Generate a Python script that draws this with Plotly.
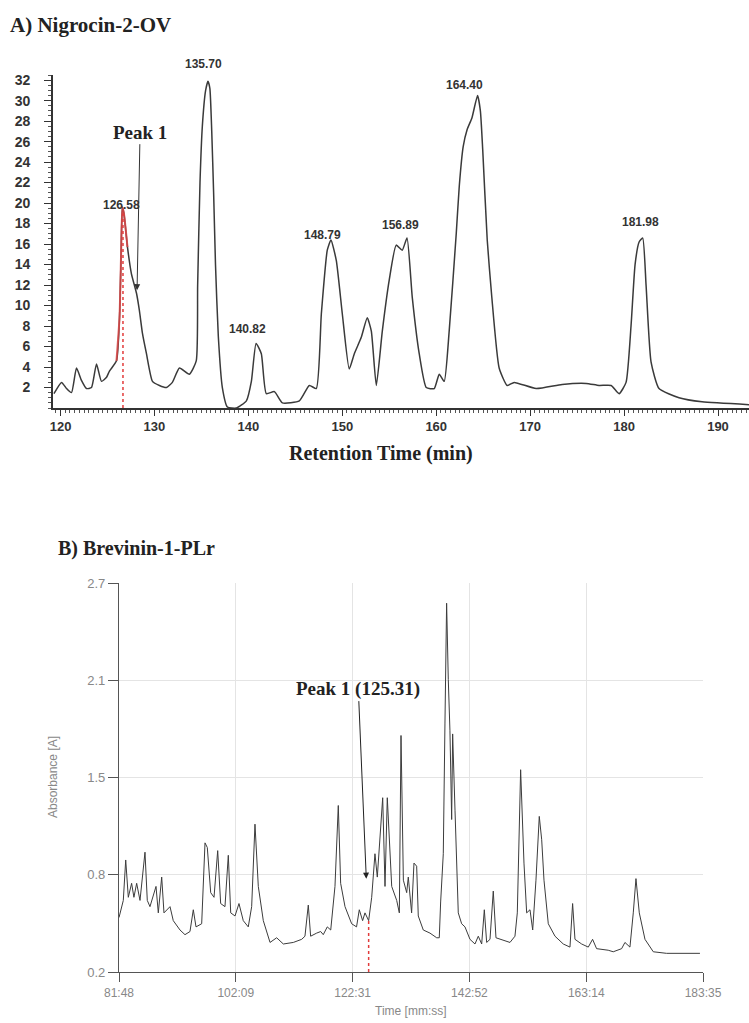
import numpy as np
import plotly.graph_objects as go

# ---------------- Panel A data (Nigrocin-2-OV) ----------------
time_a = [119.3, 120.11, 120.64, 121.17, 121.70, 122.23, 122.77, 123.3, 123.83, 124.36, 124.9,
          125.21, 125.96, 126.28, 126.45, 126.58, 126.75, 127.13, 127.55, 128.09, 128.40, 128.72,
          129.15, 129.79, 130.53, 131.28, 131.91, 132.66, 133.72, 134.45, 134.6, 134.85, 135.1,
          135.45, 135.70, 135.9, 136.1, 136.3, 136.5, 136.8, 137.23, 137.77, 138.72, 139.79,
          140.32, 140.82, 141.38, 141.91, 142.77, 143.62, 145.43, 146.49, 147.23, 147.77, 148.40,
          148.79, 149.36, 150.0, 150.74, 151.28, 152.02, 152.66, 153.09, 153.62, 154.26, 155.0,
          155.74, 156.38, 156.89, 157.45, 158.19, 158.94, 159.79, 160.32, 160.85, 161.38, 162.13,
          162.45, 162.87, 163.30, 163.8, 164.40, 164.7, 164.95, 165.43, 165.9, 166.70, 167.55,
          168.30, 170.64, 173.40, 175.96, 177.34, 178.62, 179.47, 180.21, 180.74, 181.17, 181.6,
          181.98, 182.34, 182.87, 183.72, 185.85, 188.30, 193.9]
signal_a = [1.4, 2.5, 1.9, 1.5, 3.9, 2.7, 1.9, 2.0, 4.3, 2.6, 3.0,
            3.6, 4.6, 8.8, 15.0, 19.6, 19.0, 15.7, 13.1, 11.2, 9.5, 7.3,
            5.3, 2.6, 2.2, 2.0, 2.5, 3.9, 3.3, 4.6, 12.0, 22.0, 27.5,
            31.0, 31.9, 31.2, 27.0, 21.0, 14.0, 7.0, 2.0, 0.1, 0.0, 0.7,
            2.6, 6.3, 5.3, 1.4, 1.6, 0.5, 0.7, 2.2, 1.9, 9.2, 15.4,
            16.4, 14.4, 9.2, 3.8, 5.3, 6.9, 8.8, 7.5, 2.2, 7.5, 12.5,
            15.9, 15.4, 16.6, 10.8, 5.3, 2.0, 1.9, 3.3, 2.6, 7.5, 17.0,
            21.6, 25.5, 27.2, 28.3, 30.5, 29.0, 25.2, 16.4, 11.0, 3.9, 2.2,
            2.5, 1.9, 2.3, 2.4, 2.2, 2.2, 1.4, 2.5, 8.0, 14.0, 16.2,
            16.6, 12.0, 4.5, 1.9, 1.0, 0.6, 0.3]

peak_times_a = [126.58, 135.70, 140.82, 148.79, 156.89, 164.40, 181.98]
peak_heights_a = [19.6, 31.9, 6.3, 16.4, 16.6, 30.5, 16.6]
label_xshift_a = [-1, -4, -9, -8, -7, -13, -2]
label_yshift_a = [-7, 8, 5, -4, 4, 1, 7]

peak1_a_time = 126.65
peak1_a_arrow = (128.15, 11.5)
x_ticks_a = [120, 130, 140, 150, 160, 170, 180, 190]
y_ticks_a = list(range(2, 33, 2))

# ---------------- Panel B data (Brevinin-1-PLr) ----------------
time_b = [81.8, 81.97, 82.55, 82.97, 83.42, 84.0, 84.4, 84.88, 85.46, 86.33, 86.73, 87.2,
          88.25, 88.65, 89.24, 89.64, 90.69, 91.26, 92.43, 93.3, 94.17, 94.75, 95.22, 96.21,
          96.79, 97.19, 97.78, 98.36, 99.0, 99.52, 100.27, 100.85, 101.27, 102.02, 102.71,
          103.46, 104.33, 104.92, 105.5, 106.08, 106.95, 108.12, 109.28, 110.44, 112.18,
          113.64, 114.21, 114.79, 115.2, 116.25, 116.95, 117.4, 118.1, 118.7, 119.44, 120.02,
          120.43, 121.19, 122.35, 123.2, 123.68, 124.26, 124.67, 125.31, 125.84, 126.41,
          126.82, 127.76, 128.16, 128.56, 129.33, 130.2, 130.66, 130.95, 131.36, 131.94,
          132.22, 132.8, 133.21, 133.68, 133.96, 134.83, 136.0, 137.17, 137.62, 137.86,
          138.32, 138.61, 138.9, 139.19, 139.48, 139.78, 139.95, 140.36, 140.93, 141.52,
          142.1, 142.97, 143.84, 144.42, 145.01, 145.47, 145.88, 146.46, 147.03, 147.5,
          148.2, 149.94, 150.81, 151.22, 151.8, 152.38, 152.85, 153.43, 153.9, 154.47,
          155.05, 155.47, 155.87, 156.62, 157.79, 159.23, 160.4, 160.86, 161.27, 162.43,
          163.59, 164.34, 165.04, 167.06, 167.94, 169.4, 169.98, 170.85, 171.43, 171.9,
          172.48, 173.47, 174.92, 177.24, 183.05]
absorb_b = [0.55, 0.58, 0.66, 0.92, 0.68, 0.77, 0.68, 0.77, 0.66, 0.97, 0.66, 0.62,
            0.75, 0.58, 0.81, 0.58, 0.62, 0.53, 0.47, 0.44, 0.46, 0.60, 0.49, 0.51,
            1.03, 1.00, 0.71, 0.68, 0.98, 0.64, 0.62, 0.95, 0.58, 0.56, 0.64,
            0.53, 0.49, 0.62, 1.15, 0.75, 0.53, 0.39, 0.42, 0.38, 0.39,
            0.41, 0.43, 0.63, 0.43, 0.45, 0.46, 0.44, 0.49, 0.47, 0.75, 1.27,
            0.77, 0.62, 0.51, 0.49, 0.60, 0.53, 0.58, 0.53, 0.68, 0.96,
            0.81, 1.32, 0.75, 1.32, 0.75, 0.66, 0.58, 1.72, 0.79, 0.71,
            0.81, 0.58, 0.90, 0.88, 0.56, 0.47, 0.45, 0.42, 0.42, 0.65,
            0.96, 1.80, 2.57, 2.08, 1.75, 1.18, 1.73, 1.24, 0.58, 0.51,
            0.49, 0.41, 0.38, 0.43, 0.38, 0.60, 0.39, 0.41, 0.72, 0.42,
            0.41, 0.39, 0.43, 0.58, 1.50, 0.90, 0.58, 0.60, 0.47, 0.79,
            1.20, 1.05, 0.79, 0.51, 0.43, 0.38, 0.36, 0.64, 0.41, 0.38,
            0.36, 0.41, 0.35, 0.34, 0.33, 0.35, 0.39, 0.36, 0.58, 0.80,
            0.58, 0.41, 0.33, 0.32, 0.32]

peak1_b_time = 125.31
peak1_b_top = 0.53
peak1_b_arrow = (124.9, 0.80)
x_ticklabels_b = ["81:48", "102:09", "122:31", "142:52", "163:14", "183:35"]
y_ticklabels_b = ["0.2", "0.8", "1.5", "2.1", "2.7"]
y_range_b = (0.2, 2.7)

# ---------------- figure ----------------
W, H = 749, 1023
def px(x):
    return x / W
def py(y):
    return 1 - y / H

serif = "Liberation Serif, Times New Roman, serif"
narrow = "Liberation Sans Narrow, Arial Narrow, Liberation Sans, Arial, sans-serif"
sans = "Liberation Sans, Arial, sans-serif"

fig = go.Figure()

fig.add_trace(go.Scatter(x=time_a, y=signal_a, mode="lines",
                         line=dict(color="#3a3a3a", width=1.5, shape="spline", smoothing=0.5),
                         xaxis="x", yaxis="y", showlegend=False, hoverinfo="skip"))
# red highlighted peak 1 region
ta = np.array(time_a); sa = np.array(signal_a)
mask = (ta >= 125.96) & (ta <= 127.13)
fig.add_trace(go.Scatter(x=ta[mask], y=sa[mask], mode="lines",
                         line=dict(color="rgba(220,70,70,0.85)", width=2, shape="spline", smoothing=0.5),
                         xaxis="x", yaxis="y", showlegend=False, hoverinfo="skip"))

fig.add_trace(go.Scatter(x=time_b, y=absorb_b, mode="lines",
                         line=dict(color="#3c3c3c", width=1),
                         xaxis="x2", yaxis="y2", showlegend=False, hoverinfo="skip"))

def mmss(s):
    m, sec = s.split(":")
    return int(m) + int(sec) / 60.0

x_tickvals_b = [mmss(s) for s in x_ticklabels_b]
y_tickvals_b = list(np.linspace(y_range_b[0], y_range_b[1], len(y_ticklabels_b)))

fig.update_layout(
    template="none",
    width=W, height=H,
    margin=dict(l=0, r=0, t=0, b=0, autoexpand=False),
    paper_bgcolor="white", plot_bgcolor="white",
    xaxis=dict(domain=[px(53), 1.0], range=[119.2, 193.3], anchor="y", automargin=False,
               tickvals=x_ticks_a, ticks="outside", ticklen=6, tickcolor="#333",
               showline=True, linecolor="#333", linewidth=1.6, showgrid=False, zeroline=False,
               tickfont=dict(family=narrow, size=13, color="#333", weight="bold"),
               minor=dict(ticks="outside", ticklen=3, dtick=0.5, tickcolor="#555", showgrid=False)),
    yaxis=dict(domain=[py(408), py(75)], range=[0, 32.5], anchor="x", automargin=False,
               tickvals=y_ticks_a, ticks="outside", ticklen=7, tickcolor="#333",
               showline=True, linecolor="#333", linewidth=1.6, showgrid=False, zeroline=False,
               ticklabelstandoff=11,
               tickfont=dict(family=narrow, size=14, color="#333", weight="bold"),
               minor=dict(ticks="outside", ticklen=3, dtick=0.5, tickcolor="#555", showgrid=False)),
    xaxis2=dict(domain=[px(119), px(703)], range=[x_tickvals_b[0], x_tickvals_b[-1]], anchor="y2",
                automargin=False,
                tickvals=x_tickvals_b, ticktext=x_ticklabels_b, ticks="outside", ticklen=9,
                tickcolor="#555", showline=True, linecolor="#555", linewidth=1.2,
                showgrid=True, gridcolor="#e4e4e4", gridwidth=1, zeroline=False,
                tickfont=dict(family=sans, size=12, color="#888")),
    yaxis2=dict(domain=[py(972), py(583)], range=list(y_range_b), anchor="x2", automargin=False,
                tickvals=y_tickvals_b, ticktext=y_ticklabels_b, ticks="outside", ticklen=10,
                tickcolor="#555", showline=True, linecolor="#555", linewidth=1.2,
                showgrid=True, gridcolor="#e4e4e4", gridwidth=1, zeroline=False,
                tickfont=dict(family=sans, size=13, color="#888")),
)

# red dotted marker lines
fig.add_shape(type="line", xref="x", yref="y", x0=peak1_a_time, x1=peak1_a_time, y0=0, y1=19.0,
              line=dict(color="#e23b3b", width=1.5, dash="dot"))
fig.add_shape(type="line", xref="x2", yref="y2", x0=peak1_b_time, x1=peak1_b_time, y0=0.2, y1=peak1_b_top,
              line=dict(color="#e23b3b", width=1.5, dash="dot"))

ann = []
# titles
ann.append(dict(text="A) Nigrocin-2-OV", xref="paper", yref="paper", x=px(8), y=py(25),
                xanchor="left", yanchor="middle", showarrow=False,
                font=dict(family=serif, size=21, color="#222", weight="bold")))
ann.append(dict(text="B) Brevinin-1-PLr", xref="paper", yref="paper", x=px(56), y=py(548),
                xanchor="left", yanchor="middle", showarrow=False,
                font=dict(family=serif, size=20, color="#222", weight="bold")))
ann.append(dict(text="Retention Time (min)", xref="paper", yref="paper", x=px(381), y=py(453),
                xanchor="center", yanchor="middle", showarrow=False,
                font=dict(family=serif, size=20, color="#222", weight="bold")))
ann.append(dict(text="Time [mm:ss]", xref="paper", yref="paper", x=px(411), y=py(1011),
                xanchor="center", yanchor="middle", showarrow=False,
                font=dict(family=sans, size=12, color="#888")))
ann.append(dict(text="Absorbance [A]", xref="paper", yref="paper", x=px(53), y=py(777),
                xanchor="center", yanchor="middle", showarrow=False, textangle=-90,
                font=dict(family=sans, size=12, color="#888")))

# peak labels panel A
for t, h, dx, dy in zip(peak_times_a, peak_heights_a, label_xshift_a, label_yshift_a):
    ann.append(dict(text=f"{t:.2f}", xref="x", yref="y", x=t, y=h, xanchor="center", yanchor="bottom",
                    xshift=dx, yshift=dy, showarrow=False,
                    font=dict(family=narrow, size=12, color="#333", weight="bold")))

# Peak 1 arrows
ann.append(dict(text="Peak 1", xref="x", yref="y", x=peak1_a_arrow[0], y=peak1_a_arrow[1],
                ax=3, ay=-158, showarrow=True, arrowhead=2, arrowsize=1.2, arrowwidth=1,
                arrowcolor="#333", font=dict(family=serif, size=19, color="#222", weight="bold")))
ann.append(dict(text="Peak 1 (125.31)", xref="x2", yref="y2", x=peak1_b_arrow[0], y=peak1_b_arrow[1],
                ax=-8, ay=-190, showarrow=True, arrowhead=2, arrowsize=1.2, arrowwidth=1,
                arrowcolor="#222", font=dict(family=serif, size=19, color="#222", weight="bold")))

fig.update_layout(annotations=ann)
fig.write_html("out.html",
               config={"displayModeBar": False},
               post_script="document.body.style.margin='0';document.body.style.padding='0';"
                           "document.body.style.overflow='hidden';")
